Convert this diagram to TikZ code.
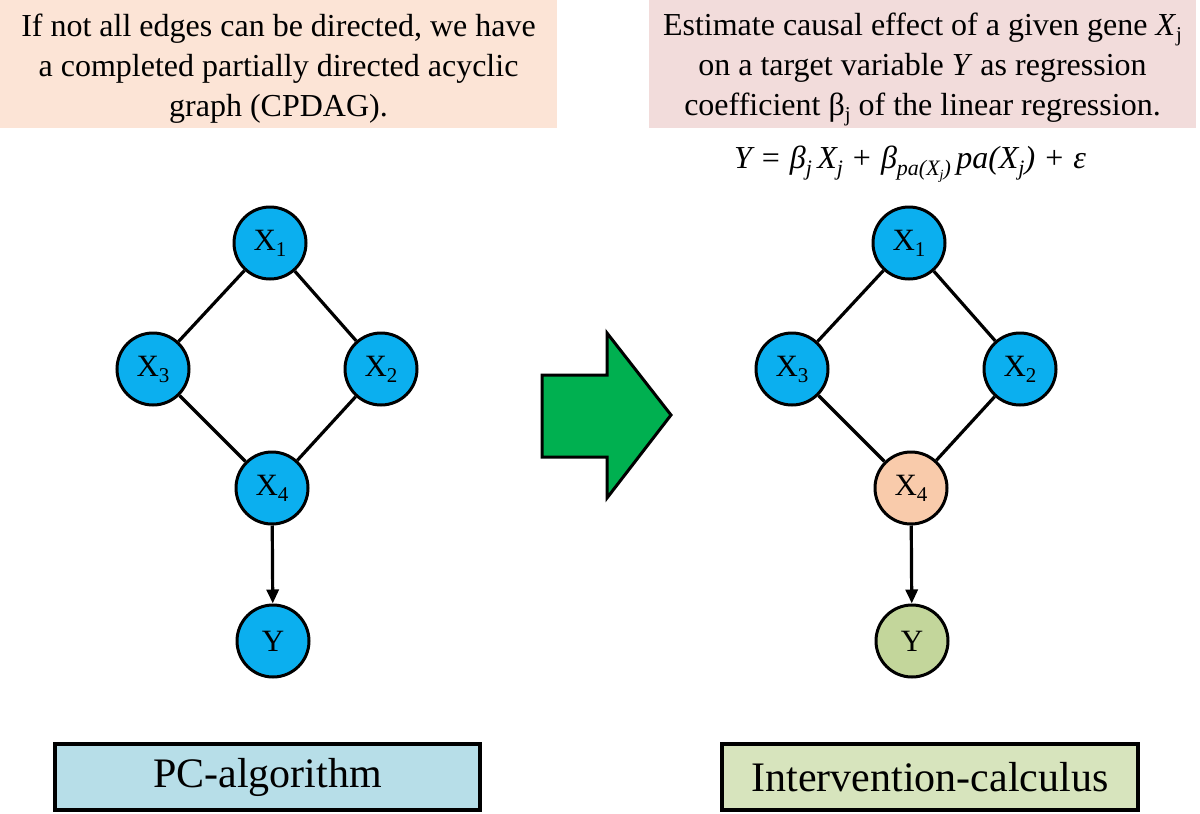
\documentclass[tikz,border=0pt]{standalone}
\usepackage{fontspec}
\setmainfont{Liberation Serif}
\newfontfamily\tnr{Liberation Serif}
\usetikzlibrary{arrows.meta}
\definecolor{nodeblue}{HTML}{0BAFEF}
\definecolor{peachbox}{HTML}{FCE4D6}
\definecolor{pinkbox}{HTML}{F2DCDB}
\definecolor{pcblue}{HTML}{B7DEE8}
\definecolor{icgreen}{HTML}{D7E4BD}
\definecolor{xfourpeach}{HTML}{F9CBAB}
\definecolor{ygreen}{HTML}{C3D69B}
\definecolor{arrowgreen}{HTML}{00B050}
\newcommand\nsub[1]{\raisebox{-6pt}{\fontsize{21}{21}\selectfont #1}}
\newcommand\esub[1]{\raisebox{-7pt}{\fontsize{22}{22}\selectfont #1}}
\newcommand\essub[1]{\raisebox{-4pt}{\fontsize{14}{14}\selectfont #1}}
\newcommand\tsub[1]{\raisebox{-6pt}{\fontsize{21}{21}\selectfont #1}}
\newcommand\opsp[1]{\hspace{10pt}{\upshape #1}\hspace{10pt}}
\tikzset{
  gnode/.style={circle, draw=black, line width=3pt, minimum size=72pt, inner sep=0pt, fill=nodeblue, font=\tnr\fontsize{31}{31}\selectfont},
  gedge/.style={line width=3.2pt},
  toptext/.style={inner sep=0pt, align=center, font=\tnr\fontsize{32}{40}\selectfont},
  botbox/.style={rectangle, draw=black, line width=4pt, inner sep=0pt, font=\tnr\fontsize{42}{42}\selectfont},
}
\begin{document}
\begin{tikzpicture}[x=1pt,y=-1pt]
\useasboundingbox (0,0) rectangle (1200,814);
% top boxes
\fill[peachbox] (0,0) rectangle (557,128);
\fill[pinkbox] (649,0) rectangle (1196,128);
\node[toptext] (tl) at (278.5,69)
  {If not all edges can be directed, we have\\a completed partially directed acyclic\\graph (CPDAG).};
\node[toptext] (tr) at (922.5,69)
  {Estimate causal effect of a given gene \textit{X}\tsub{j}\\on a target variable \textit{Y} as regression\\coefficient β\tsub{j} of the linear regression.};
% equation
\node[inner sep=0pt, font=\tnr\fontsize{32}{32}\selectfont\itshape] (eq) at (910,164)
  {Y\opsp{=}β\esub{j}\,X\esub{j}\opsp{+}β\esub{pa(X\essub{j})}\,pa(X\esub{j})\opsp{+}ε};
% left graph
\node[gnode] (a1) at (270,243) {X\nsub{1}};
\node[gnode] (a3) at (153,369) {X\nsub{3}};
\node[gnode] (a2) at (381,369) {X\nsub{2}};
\node[gnode] (a4) at (272,488) {X\nsub{4}};
\node[gnode] (ay) at (273,641) {Y};
\draw[gedge] (a1) -- (a3);
\draw[gedge] (a1) -- (a2);
\draw[gedge] (a3) -- (a4);
\draw[gedge] (a2) -- (a4);
\draw[gedge, -{Triangle[length=14pt,width=12pt]}] (a4) -- (ay);
% right graph
\node[gnode] (b1) at (909,243) {X\nsub{1}};
\node[gnode] (b3) at (792,369) {X\nsub{3}};
\node[gnode] (b2) at (1020,369) {X\nsub{2}};
\node[gnode, fill=xfourpeach] (b4) at (911,488) {X\nsub{4}};
\node[gnode, fill=ygreen] (by) at (912,641) {Y};
\draw[gedge] (b1) -- (b3);
\draw[gedge] (b1) -- (b2);
\draw[gedge] (b3) -- (b4);
\draw[gedge] (b2) -- (b4);
\draw[gedge, -{Triangle[length=14pt,width=12pt]}] (b4) -- (by);
% big arrow
\draw[fill=arrowgreen, draw=black, line width=3pt, line join=miter]
  (542,375) -- (607,375) -- (607,333) -- (671,415) -- (607,498) -- (607,457) -- (542,457) -- cycle;
% bottom boxes
\node[botbox, fill=pcblue, minimum width=425pt, minimum height=66pt] (pc) at (267.5,777) {PC-algorithm};
\node[botbox, fill=icgreen, minimum width=416pt, minimum height=66pt] (ic) at (930,777) {Intervention-calculus};
\end{tikzpicture}
\end{document}
